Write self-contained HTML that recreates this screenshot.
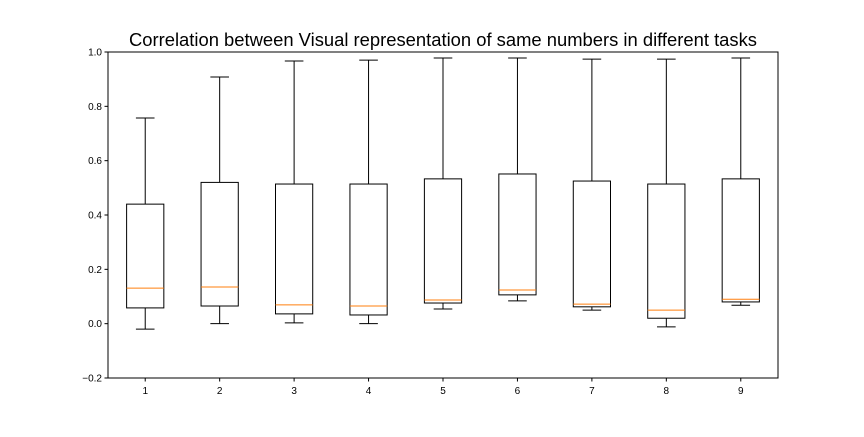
<!DOCTYPE html>
<html><head><meta charset="utf-8"><style>
body{margin:0;background:#fff;}
svg text{font-family:"Liberation Sans","DejaVu Sans",sans-serif;}
</style></head><body>
<svg id="chart" width="864" height="432">
<rect width="864" height="432" fill="#fff"/>
<text x="443" y="46" font-size="18.4" text-anchor="middle">Correlation between Visual representation of same numbers in different tasks</text>
<g id="marks"></g>
<rect x="108" y="52" width="670" height="326" fill="none" stroke="#000" stroke-width="1"/>
<g id="axes"></g>
</svg>
<script>
const categories=[1,2,3,4,5,6,7,8,9];
const whiskerLow=[-0.02,0.0,0.003,0.0,0.054,0.084,0.05,-0.012,0.068];
const q1=[0.058,0.065,0.036,0.032,0.076,0.106,0.062,0.02,0.08];
const median=[0.131,0.135,0.069,0.065,0.087,0.124,0.072,0.05,0.09];
const q3=[0.44,0.52,0.514,0.514,0.533,0.551,0.525,0.514,0.533];
const whiskerHigh=[0.757,0.908,0.967,0.97,0.978,0.978,0.974,0.974,0.978];
const yTicks=[-0.2,0.0,0.2,0.4,0.6,0.8,1.0];
const yTickLabels=["\u22120.2","0.0","0.2","0.4","0.6","0.8","1.0"];

const L=108,R=778,T=52,B=378,ymin=-0.2,ymax=1.0,xmin=0.5,xmax=9.5;
const X=v=>L+(v-xmin)/(xmax-xmin)*(R-L);
const Y=v=>B-(v-ymin)/(ymax-ymin)*(B-T);
const NS="http://www.w3.org/2000/svg";
function mk(tag,attrs,parent){const e=document.createElementNS(NS,tag);for(const k in attrs)e.setAttribute(k,attrs[k]);parent.appendChild(e);return e;}
const marks=document.getElementById('marks'),axes=document.getElementById('axes');
categories.forEach((c,i)=>{
  const g=mk('g',{},marks);
  
  
  const x=X(c),hw=X(c+0.25)-x,cw=X(c+0.125)-x;
  const ln=(x1,y1,x2,y2,col)=>mk('line',{x1:x1,y1:y1,x2:x2,y2:y2,stroke:col||'#000','stroke-width':1},g);
  ln(x,Y(q3[i]),x,Y(whiskerHigh[i]));
  ln(x,Y(q1[i]),x,Y(whiskerLow[i]));
  ln(x-cw,Y(whiskerHigh[i]),x+cw,Y(whiskerHigh[i]));
  ln(x-cw,Y(whiskerLow[i]),x+cw,Y(whiskerLow[i]));
  mk('rect',{x:x-hw,y:Y(q3[i]),width:2*hw,height:Y(q1[i])-Y(q3[i]),fill:'none',stroke:'#000','stroke-width':1},g);
  const m=ln(x-hw,Y(median[i]),x+hw,Y(median[i]),'#ff7f0e');
  
  
  mk('line',{x1:x,y1:B,x2:x,y2:B+3.5,stroke:'#000'},axes);
  const t=mk('text',{x:x,y:B+16,'font-size':10,'text-anchor':'middle'},axes);
  t.textContent=c;
  
  
});
yTicks.forEach((v,i)=>{
  const y=Y(v);
  mk('line',{x1:L-3.5,y1:y,x2:L,y2:y,stroke:'#000'},axes);
  const t=mk('text',{x:L-6,y:y+3.5,'font-size':10,'text-anchor':'end'},axes);
  t.textContent=yTickLabels[i];
  
  
});
</script>
</body></html>
